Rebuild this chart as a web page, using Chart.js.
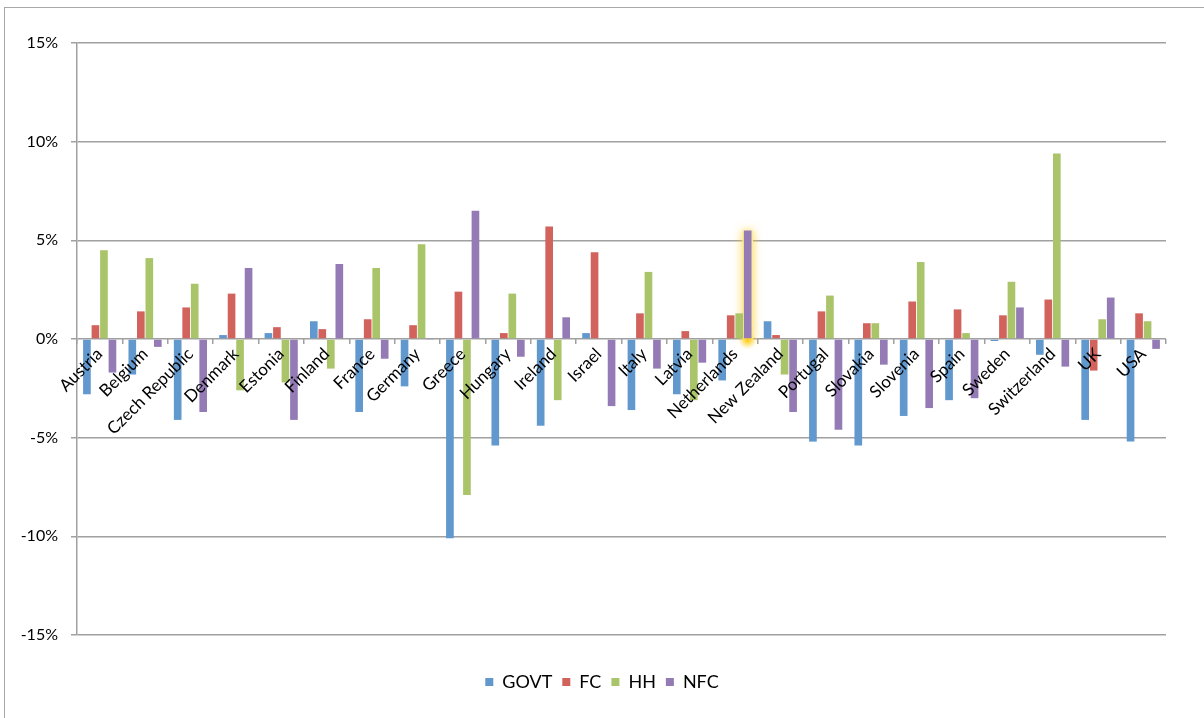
<!DOCTYPE html>
<html>
<head>
<meta charset="utf-8">
<script src="https://cdn.jsdelivr.net/npm/chart.js@4/dist/chart.umd.min.js"></script>
<style>
  html, body { margin: 0; padding: 0; background: #fff; overflow: hidden; }
  #frame { position: absolute; left: 4px; top: 7px; width: 1400px; height: 900px; border: 1px solid #a8a8a8; box-sizing: border-box; }
  #wrap { position: absolute; left: 0; top: 0; width: 1204px; height: 718px; }
</style>
</head>
<body>
<div id="frame"></div>
<div id="wrap"><canvas id="c" width="1204" height="718"></canvas></div>
<script>
// Sector balances by country, % of GDP
const countries = ['Austria', 'Belgium', 'Czech Republic', 'Denmark', 'Estonia', 'Finland', 'France', 'Germany',
  'Greece', 'Hungary', 'Ireland', 'Israel', 'Italy', 'Latvia', 'Netherlands', 'New Zealand', 'Portugal',
  'Slovakia', 'Slovenia', 'Spain', 'Sweden', 'Switzerland', 'UK', 'USA'];

const govt = [-2.8, -1.8, -4.1, 0.2, 0.3, 0.9, -3.7, -2.4, -10.1, -5.4, -4.4, 0.3, -3.6, -2.8, -2.1, 0.9, -5.2, -5.4, -3.9, -3.1, -0.1, -0.8, -4.1, -5.2];
const fc   = [0.7, 1.4, 1.6, 2.3, 0.6, 0.5, 1.0, 0.7, 2.4, 0.3, 5.7, 4.4, 1.3, 0.4, 1.2, 0.2, 1.4, 0.8, 1.9, 1.5, 1.2, 2.0, -1.6, 1.3];
const hh   = [4.5, 4.1, 2.8, -2.6, -2.2, -1.5, 3.6, 4.8, -7.9, 2.3, -3.1, 0, 3.4, -3.1, 1.3, -1.8, 2.2, 0.8, 3.9, 0.3, 2.9, 9.4, 1.0, 0.9];
const nfc  = [-1.7, -0.4, -3.7, 3.6, -4.1, 3.8, -1.0, -0.05, 6.5, -0.9, 1.1, -3.4, -1.5, -1.2, 5.5, -3.7, -4.6, -1.3, -3.5, -3.0, 1.6, -1.4, 2.1, -0.5];

const seriesNames = ['GOVT', 'FC', 'HH', 'NFC'];
const seriesColors = ['#6198cd', '#d2625c', '#aac46a', '#947bb5'];
const yTicks = [-15, -10, -5, 0, 5, 10, 15];

const FONT = 'Lato, "Open Sans", "Liberation Sans", sans-serif';
const GRID = '#a0a0a0';

// Soft yellow highlight drawn behind the selected bar (Netherlands, NFC)
const highlight = {
  id: 'highlight',
  beforeDatasetsDraw(chart) {
    const meta = chart.getDatasetMeta(3);
    const el = meta.data[countries.indexOf('Netherlands')];
    if (!el) return;
    const { x, y, base, width } = el.getProps(['x', 'y', 'base', 'width'], true);
    const ctx = chart.ctx;
    ctx.save();
    ctx.shadowColor = 'rgba(255, 205, 40, 0.9)';
    ctx.shadowBlur = 10;
    ctx.fillStyle = 'rgba(255, 236, 150, 0.9)';
    ctx.fillRect(x - width / 2 - 1.5, y, width + 3, base - y + 2);
    ctx.restore();
    ctx.save();
    const g = ctx.createRadialGradient(x, base + 2, 0, x, base + 2, 9);
    g.addColorStop(0, 'rgba(255, 200, 0, 0.95)');
    g.addColorStop(1, 'rgba(255, 220, 80, 0)');
    ctx.fillStyle = g;
    ctx.beginPath();
    ctx.arc(x, base + 2, 9, 0, Math.PI * 2);
    ctx.fill();
    ctx.restore();
  }
};

// Center the legend on the full canvas width rather than the padded box
const legendCenter = {
  id: 'legendCenter',
  afterLayout(chart) {
    const l = chart.legend;
    if (!l) return;
    l.left = 0;
    l.right = chart.width;
    l.width = chart.width;
  }
};

const datasets = [govt, fc, hh, nfc].map((vals, i) => ({
  label: seriesNames[i],
  data: vals,
  backgroundColor: seriesColors[i],
  borderWidth: 0,
  categoryPercentage: 0.75,
  barPercentage: 0.9
}));

new Chart(document.getElementById('c'), {
  type: 'bar',
  data: { labels: countries, datasets },
  plugins: [highlight, legendCenter],
  options: {
    responsive: false,
    animation: false,
    layout: { padding: { left: 0, right: 38, top: 43, bottom: 17 } },
    plugins: {
      tooltip: { enabled: false },
      legend: {
        position: 'bottom',
        align: 'center',
        title: { display: true, text: '', padding: { top: 18, bottom: 0 }, font: { size: 10, lineHeight: 1 } },
        labels: {
          boxWidth: 8,
          boxHeight: 8,
          padding: 10,
          color: '#000',
          font: { family: FONT, size: 18 }
        }
      }
    },
    scales: {
      x: {
        position: { y: 0 },
        offset: true,
        grid: {
          offset: true,
          drawOnChartArea: false,
          drawTicks: true,
          tickLength: 5,
          color: GRID,
          lineWidth: 1.5
        },
        border: { display: false },
        ticks: {
          z: 1,
          autoSkip: false,
          minRotation: 45,
          maxRotation: 45,
          padding: 0,
          color: '#000',
          font: { family: FONT, size: 17 }
        }
      },
      y: {
        min: -15,
        max: 15,
        afterFit(scale) { scale.width = 77; },
        afterBuildTicks(scale) { scale.ticks = yTicks.map(v => ({ value: v })); },
        grid: {
          color: GRID,
          lineWidth: 1.5,
          tickLength: 6,
          drawTicks: true
        },
        border: { display: true, color: GRID, width: 1.5 },
        ticks: {
          padding: 13,
          color: '#000',
          font: { family: FONT, size: 16 },
          callback: v => v + '%'
        }
      }
    }
  }
});
</script>
</body>
</html>
